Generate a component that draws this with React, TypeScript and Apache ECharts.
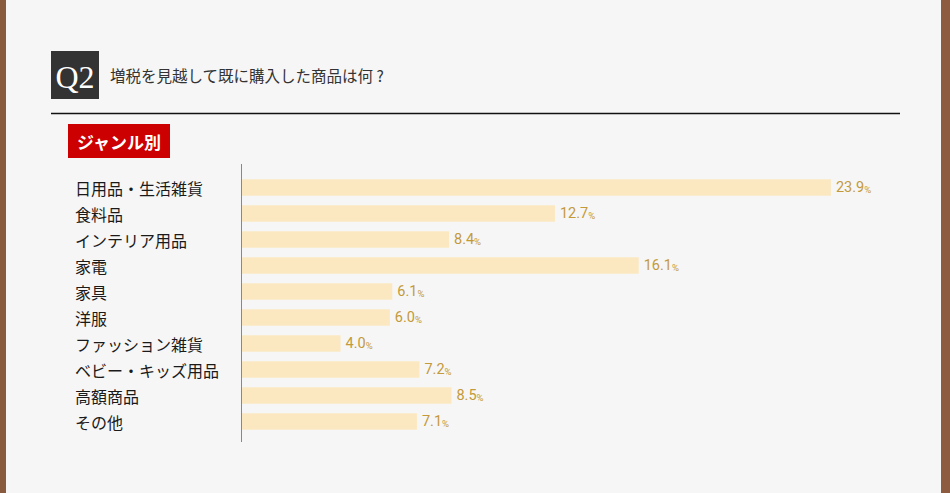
import React, { useEffect, useRef } from "react";
import * as echarts from "echarts";

const categories = [
  "日用品・生活雑貨",
  "食料品",
  "インテリア用品",
  "家電",
  "家具",
  "洋服",
  "ファッション雑貨",
  "ベビー・キッズ用品",
  "高額商品",
  "その他",
];
const values = [23.9, 12.7, 8.4, 16.1, 6.1, 6.0, 4.0, 7.2, 8.5, 7.1];
const questionTitle = "増税を見越して既に購入した商品は何 ?";
const sectionLabel = "ジャンル別";

export default function App() {
  const ref = useRef<HTMLDivElement>(null);
  useEffect(() => {
    if (!ref.current) return;
    const chart = echarts.init(ref.current, null, { renderer: "svg" });
    chart.setOption({
      animation: false,
      backgroundColor: "#f6f6f6",
      grid: { left: 242, top: 174.5, width: 616, height: 260, containLabel: false },
      xAxis: {
        type: "value",
        min: 0,
        max: 25,
        show: false,
      },
      yAxis: {
        type: "category",
        data: categories,
        inverse: true,
        axisLine: { show: false },
        axisTick: { show: false },
        axisLabel: {
          align: "left",
          margin: 167,
          color: "#1a1a1a",
          fontSize: 16,
          fontFamily: "Noto Sans CJK JP",
        },
      },
      series: [
        {
          type: "bar",
          data: values,
          barWidth: 16.5,
          itemStyle: { color: "#fbe8c0" },
          label: {
            show: true,
            position: "right",
            distance: 5,
            formatter: (p: any) => `{v|${p.value.toFixed(1)}}{p|%}`,
            rich: {
              v: { color: "#c39a3a", fontSize: 14.5, fontFamily: "Roboto", fontWeight: 400 },
              p: { color: "#c39a3a", fontSize: 9.5, fontFamily: "Roboto", fontWeight: 400, padding: [3, 0, 0, 0] },
            },
          },
        },
      ],
      graphic: [
        { type: "rect", shape: { x: 0, y: 0, width: 6, height: 493 }, style: { fill: "#8a5a3e" } },
        { type: "rect", shape: { x: 941, y: 0, width: 9, height: 493 }, style: { fill: "#8d5c40" } },
        { type: "rect", shape: { x: 51, y: 51, width: 48, height: 48 }, style: { fill: "#333333" } },
        {
          type: "text",
          x: 75,
          y: 77,
          style: {
            text: "Q2",
            fill: "#ffffff",
            font: "32px 'Liberation Serif'",
            textAlign: "center",
            textVerticalAlign: "middle",
          },
        },
        {
          type: "text",
          x: 110,
          y: 75,
          style: {
            text: questionTitle,
            fill: "#333",
            font: "15.5px 'Noto Sans CJK JP'",
            textVerticalAlign: "middle",
          },
        },
        {
          type: "line",
          shape: { x1: 51, y1: 113.5, x2: 900, y2: 113.5 },
          style: { stroke: "#111", lineWidth: 1.5 },
        },
        { type: "rect", shape: { x: 68, y: 124, width: 102, height: 34 }, style: { fill: "#cc0000" } },
        {
          type: "text",
          x: 119,
          y: 141,
          style: {
            text: sectionLabel,
            fill: "#ffffff",
            font: "bold 17px 'Noto Sans CJK JP'",
            textAlign: "center",
            textVerticalAlign: "middle",
          },
        },
        {
          type: "line",
          shape: { x1: 241.5, y1: 164, x2: 241.5, y2: 442 },
          style: { stroke: "#888", lineWidth: 1 },
        },
      ],
    });
    return () => chart.dispose();
  }, []);
  return (
    <div
      ref={ref}
      style={{ position: "fixed", left: 0, top: 0, width: 950, height: 493 }}
    />
  );
}
